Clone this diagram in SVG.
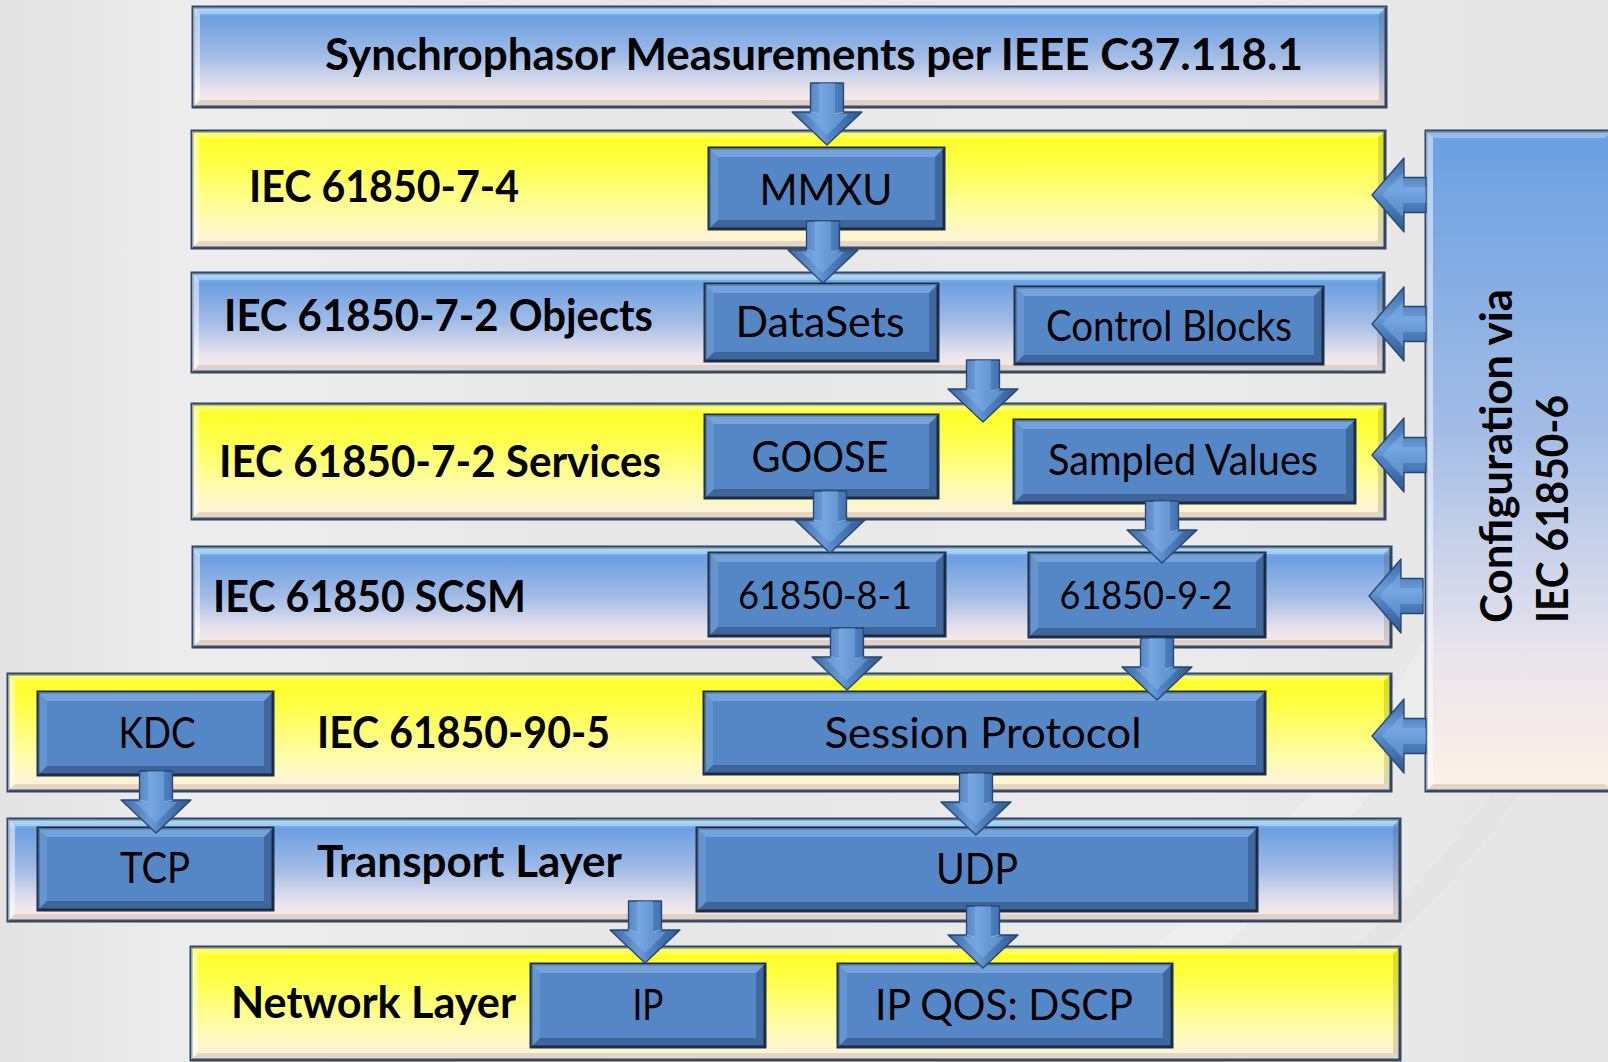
<svg xmlns="http://www.w3.org/2000/svg" width="1608" height="1062" viewBox="0 0 1608 1062">
  <defs>
    <linearGradient id="bg" x1="0" y1="0" x2="1" y2="0">
      <stop offset="0" stop-color="#e3e3e3"/>
      <stop offset="0.12" stop-color="#ededed"/>
      <stop offset="0.4" stop-color="#e7e7e7"/>
      <stop offset="0.7" stop-color="#ebebeb"/>
      <stop offset="1" stop-color="#e5e5e5"/>
    </linearGradient>
    <!-- layer bar fills -->
    <linearGradient id="gYellow" x1="0" y1="0" x2="0" y2="1">
      <stop offset="0" stop-color="#ffff1e"/>
      <stop offset="0.3" stop-color="#ffff4a"/>
      <stop offset="0.7" stop-color="#fffca8"/>
      <stop offset="1" stop-color="#fdf1e6"/>
    </linearGradient>
    <linearGradient id="gBlue" x1="0" y1="0" x2="0" y2="1">
      <stop offset="0" stop-color="#8fd6fb"/>
      <stop offset="0.1" stop-color="#6b9fe2"/>
      <stop offset="0.5" stop-color="#a3bce6"/>
      <stop offset="0.82" stop-color="#e8e3ec"/>
      <stop offset="1" stop-color="#fbede4"/>
    </linearGradient>
    <linearGradient id="gConfig" x1="0" y1="0" x2="0" y2="1">
      <stop offset="0" stop-color="#6a9fe2"/>
      <stop offset="0.45" stop-color="#a2bce6"/>
      <stop offset="0.8" stop-color="#eae5ec"/>
      <stop offset="1" stop-color="#fdf1e6"/>
    </linearGradient>
    <!-- 3D block arrow fills -->
    <linearGradient id="gArrowDown" gradientUnits="userSpaceOnUse" x1="-35" y1="0" x2="35" y2="0">
      <stop offset="0" stop-color="#3a69a6"/>
      <stop offset="0.42" stop-color="#6a9bd8"/>
      <stop offset="0.55" stop-color="#5285c6"/>
      <stop offset="1" stop-color="#2f5890"/>
    </linearGradient>
    <linearGradient id="gArrowLeft" gradientUnits="userSpaceOnUse" x1="0" y1="-37" x2="0" y2="37">
      <stop offset="0" stop-color="#3a69a6"/>
      <stop offset="0.42" stop-color="#6a9bd8"/>
      <stop offset="0.55" stop-color="#5285c6"/>
      <stop offset="1" stop-color="#2f5890"/>
    </linearGradient>
    <g id="arrowDown">
      <path d="M-16.5,-62 H16.5 V-33 H35 L0,0 L-35,-33 H-16.5 Z" fill="url(#gArrowDown)" stroke="#27466e" stroke-width="1.3" stroke-linejoin="round"/>
      <path d="M-8,-62 H8 V-31 H21 L0,-10 L-21,-31 H-8 Z" fill="#86b6ec" opacity="0.45"/>
      <path d="M-16.5,-33 L-8,-31 M16.5,-33 L8,-31" stroke="#9cc6f2" stroke-width="1.2" opacity="0.7"/>
    </g>
    <g id="arrowLeft">
      <path d="M0,0 L32,-37 V-17.5 H54 V17.5 H32 V37 Z" fill="url(#gArrowLeft)" stroke="#27466e" stroke-width="1.3" stroke-linejoin="round"/>
      <path d="M10,0 L31,-22 V-8 H54 V8 H31 V22 Z" fill="#86b6ec" opacity="0.45"/>
    </g>
  </defs>

  <style>
    .bar { stroke: #2e4766; stroke-width: 3; }
    .yellow { fill: url(#gYellow); }
    .blue { fill: url(#gBlue); }
    .cfg { fill: url(#gConfig); }
    .ft { fill: #ffffff; opacity: 0.3; }
    .fl { fill: #ffffff; opacity: 0.5; }
    .fr { fill: #3a2a1a; opacity: 0.16; }
    .fb { fill: #8a6a50; opacity: 0.2; }
    .box { fill: #5586c6; stroke: #1c2f48; stroke-width: 3; }
    .it { fill: #9cc8f5; opacity: 0.45; }
    .il { fill: #8ab8ec; opacity: 0.3; }
    .ir { fill: #0e2340; opacity: 0.3; }
    .ib { fill: #0e2340; opacity: 0.32; }
    .lbl { font-family: Lato, "Liberation Sans", Arial, sans-serif; font-weight: 700; font-size: 43px; fill: #000; }
    .txt { font-family: Lato, "Liberation Sans", Arial, sans-serif; font-weight: 400; font-size: 42px; fill: #000; text-anchor: middle; }
    .num { font-size: 38px; }
  </style>

  <!-- backdrop -->
  <rect x="0" y="0" width="1608" height="1062" fill="url(#bg)"/>
  <path d="M1040,1062 Q1480,760 1608,280" fill="none" stroke="#f4f4f4" stroke-width="46" opacity="0.4"/>
  <path d="M1230,1062 Q1560,820 1608,560" fill="none" stroke="#dedede" stroke-width="22" opacity="0.35"/>

  <!-- layer bars -->
  <g id="layer-synchrophasor">
    <rect class="bar blue" x="193" y="7" width="1193" height="100"/>
    <polygon class="ft" points="193,7 1386,7 1379,14 200,14"/>
    <polygon class="fl" points="193,7 200,14 200,100 193,107"/>
    <polygon class="fr" points="1386,7 1386,107 1379,100 1379,14"/>
    <polygon class="fb" points="193,107 200,100 1379,100 1386,107"/>
    <text class="lbl" x="325" y="70" font-size="41" textLength="978" lengthAdjust="spacingAndGlyphs">Synchrophasor Measurements per IEEE C37.118.1</text>
  </g>

  <g id="layer-61850-7-4">
    <rect class="bar yellow" x="192" y="131" width="1193" height="117"/>
    <polygon class="ft" points="192,131 1385,131 1378,138 199,138"/>
    <polygon class="fl" points="192,131 199,138 199,241 192,248"/>
    <polygon class="fr" points="1385,131 1385,248 1378,241 1378,138"/>
    <polygon class="fb" points="192,248 199,241 1378,241 1385,248"/>
    <text class="lbl" x="249" y="202" textLength="270" lengthAdjust="spacingAndGlyphs">IEC 61850-7-4</text>
  </g>

  <g id="layer-61850-7-2-objects">
    <rect class="bar blue" x="192" y="273" width="1192" height="99"/>
    <polygon class="ft" points="192,273 1384,273 1377,280 199,280"/>
    <polygon class="fl" points="192,273 199,280 199,365 192,372"/>
    <polygon class="fr" points="1384,273 1384,372 1377,365 1377,280"/>
    <polygon class="fb" points="192,372 199,365 1377,365 1384,372"/>
    <text class="lbl" x="224" y="331" textLength="429" lengthAdjust="spacingAndGlyphs">IEC 61850-7-2 Objects</text>
  </g>

  <g id="layer-61850-7-2-services">
    <rect class="bar yellow" x="192" y="404" width="1193" height="115"/>
    <polygon class="ft" points="192,404 1385,404 1378,411 199,411"/>
    <polygon class="fl" points="192,404 199,411 199,512 192,519"/>
    <polygon class="fr" points="1385,404 1385,519 1378,512 1378,411"/>
    <polygon class="fb" points="192,519 199,512 1378,512 1385,519"/>
    <text class="lbl" x="219" y="477" textLength="442" lengthAdjust="spacingAndGlyphs">IEC 61850-7-2 Services</text>
  </g>

  <g id="layer-scsm">
    <rect class="bar blue" x="193" y="547" width="1198" height="100"/>
    <polygon class="ft" points="193,547 1391,547 1384,554 200,554"/>
    <polygon class="fl" points="193,547 200,554 200,640 193,647"/>
    <polygon class="fr" points="1391,547 1391,647 1384,640 1384,554"/>
    <polygon class="fb" points="193,647 200,640 1384,640 1391,647"/>
    <text class="lbl" x="213" y="612" textLength="313" lengthAdjust="spacingAndGlyphs">IEC 61850 SCSM</text>
  </g>

  <g id="layer-90-5">
    <rect class="bar yellow" x="8" y="674" width="1383" height="117"/>
    <polygon class="ft" points="8,674 1391,674 1384,681 15,681"/>
    <polygon class="fl" points="8,674 15,681 15,784 8,791"/>
    <polygon class="fr" points="1391,674 1391,791 1384,784 1384,681"/>
    <polygon class="fb" points="8,791 15,784 1384,784 1391,791"/>
    <text class="lbl" x="317" y="748" textLength="293" lengthAdjust="spacingAndGlyphs">IEC 61850-90-5</text>
  </g>

  <g id="layer-transport">
    <rect class="bar blue" x="8" y="819" width="1392" height="102"/>
    <polygon class="ft" points="8,819 1400,819 1393,826 15,826"/>
    <polygon class="fl" points="8,819 15,826 15,914 8,921"/>
    <polygon class="fr" points="1400,819 1400,921 1393,914 1393,826"/>
    <polygon class="fb" points="8,921 15,914 1393,914 1400,921"/>
    <text class="lbl" x="317" y="877" textLength="305" lengthAdjust="spacingAndGlyphs">Transport Layer</text>
  </g>

  <g id="layer-network">
    <rect class="bar yellow" x="191" y="947" width="1209" height="113"/>
    <polygon class="ft" points="191,947 1400,947 1393,954 198,954"/>
    <polygon class="fl" points="191,947 198,954 198,1053 191,1060"/>
    <polygon class="fr" points="1400,947 1400,1060 1393,1053 1393,954"/>
    <polygon class="fb" points="191,1060 198,1053 1393,1053 1400,1060"/>
    <text class="lbl" x="231" y="1018" textLength="285" lengthAdjust="spacingAndGlyphs">Network Layer</text>
  </g>

  <g id="configuration">
    <rect class="bar cfg" x="1426" y="131" width="186" height="660"/>
    <polygon class="ft" points="1426,131 1612,131 1605,138 1433,138"/>
    <polygon class="fl" points="1426,131 1433,138 1433,784 1426,791"/>
    <polygon class="fb" points="1426,791 1433,784 1605,784 1612,791"/>
    <text class="lbl" transform="translate(1512,623) rotate(-90)" textLength="334" lengthAdjust="spacingAndGlyphs">Configuration via</text>
    <text class="lbl" transform="translate(1568,623) rotate(-90)" textLength="228" lengthAdjust="spacingAndGlyphs">IEC 61850-6</text>
  </g>

  <!-- function blocks -->
  <g id="mmxu">
    <rect class="box" x="709" y="148" width="235" height="81"/>
    <polygon class="it" points="709,148 944,148 935,157 718,157"/>
    <polygon class="il" points="709,148 718,157 718,220 709,229"/>
    <polygon class="ir" points="944,148 944,229 935,220 935,157"/>
    <polygon class="ib" points="709,229 718,220 935,220 944,229"/>
    <text class="txt" x="826" y="205" textLength="133" lengthAdjust="spacingAndGlyphs">MMXU</text>
  </g>

  <g id="datasets">
    <rect class="box" x="705" y="284" width="233" height="77"/>
    <polygon class="it" points="705,284 938,284 929,293 714,293"/>
    <polygon class="il" points="705,284 714,293 714,352 705,361"/>
    <polygon class="ir" points="938,284 938,361 929,352 929,293"/>
    <polygon class="ib" points="705,361 714,352 929,352 938,361"/>
    <text class="txt" x="820" y="337" textLength="169" lengthAdjust="spacingAndGlyphs">DataSets</text>
  </g>

  <g id="control-blocks">
    <rect class="box" x="1015" y="287" width="308" height="77"/>
    <polygon class="it" points="1015,287 1323,287 1314,296 1024,296"/>
    <polygon class="il" points="1015,287 1024,296 1024,355 1015,364"/>
    <polygon class="ir" points="1323,287 1323,364 1314,355 1314,296"/>
    <polygon class="ib" points="1015,364 1024,355 1314,355 1323,364"/>
    <text class="txt" x="1169" y="341" font-size="40" textLength="246" lengthAdjust="spacingAndGlyphs">Control Blocks</text>
  </g>

  <g id="goose">
    <rect class="box" x="705" y="415" width="233" height="83"/>
    <polygon class="it" points="705,415 938,415 929,424 714,424"/>
    <polygon class="il" points="705,415 714,424 714,489 705,498"/>
    <polygon class="ir" points="938,415 938,498 929,489 929,424"/>
    <polygon class="ib" points="705,498 714,489 929,489 938,498"/>
    <text class="txt" x="820" y="472" textLength="137" lengthAdjust="spacingAndGlyphs">GOOSE</text>
  </g>

  <g id="sampled-values">
    <rect class="box" x="1014" y="420" width="341" height="83"/>
    <polygon class="it" points="1014,420 1355,420 1346,429 1023,429"/>
    <polygon class="il" points="1014,420 1023,429 1023,494 1014,503"/>
    <polygon class="ir" points="1355,420 1355,503 1346,494 1346,429"/>
    <polygon class="ib" points="1014,503 1023,494 1346,494 1355,503"/>
    <text class="txt" x="1183" y="475" font-size="40" textLength="270" lengthAdjust="spacingAndGlyphs">Sampled Values</text>
  </g>

  <g id="scsm-8-1">
    <rect class="box" x="709" y="553" width="236" height="83"/>
    <polygon class="it" points="709,553 945,553 936,562 718,562"/>
    <polygon class="il" points="709,553 718,562 718,627 709,636"/>
    <polygon class="ir" points="945,553 945,636 936,627 936,562"/>
    <polygon class="ib" points="709,636 718,627 936,627 945,636"/>
    <text class="txt num" x="825" y="609" textLength="174" lengthAdjust="spacingAndGlyphs">61850-8-1</text>
  </g>

  <g id="scsm-9-2">
    <rect class="box" x="1029" y="553" width="236" height="84"/>
    <polygon class="it" points="1029,553 1265,553 1256,562 1038,562"/>
    <polygon class="il" points="1029,553 1038,562 1038,628 1029,637"/>
    <polygon class="ir" points="1265,553 1265,637 1256,628 1256,562"/>
    <polygon class="ib" points="1029,637 1038,628 1256,628 1265,637"/>
    <text class="txt num" x="1146" y="609" textLength="173" lengthAdjust="spacingAndGlyphs">61850-9-2</text>
  </g>

  <g id="session-protocol">
    <rect class="box" x="704" y="692" width="561" height="82"/>
    <polygon class="it" points="704,692 1265,692 1256,701 713,701"/>
    <polygon class="il" points="704,692 713,701 713,765 704,774"/>
    <polygon class="ir" points="1265,692 1265,774 1256,765 1256,701"/>
    <polygon class="ib" points="704,774 713,765 1256,765 1265,774"/>
    <text class="txt" x="983" y="748" textLength="317" lengthAdjust="spacingAndGlyphs">Session Protocol</text>
  </g>

  <g id="kdc">
    <rect class="box" x="38" y="692" width="235" height="83"/>
    <polygon class="it" points="38,692 273,692 264,701 47,701"/>
    <polygon class="il" points="38,692 47,701 47,766 38,775"/>
    <polygon class="ir" points="273,692 273,775 264,766 264,701"/>
    <polygon class="ib" points="38,775 47,766 264,766 273,775"/>
    <text class="txt" x="157" y="748" textLength="77" lengthAdjust="spacingAndGlyphs">KDC</text>
  </g>

  <g id="tcp">
    <rect class="box" x="38" y="828" width="235" height="82"/>
    <polygon class="it" points="38,828 273,828 264,837 47,837"/>
    <polygon class="il" points="38,828 47,837 47,901 38,910"/>
    <polygon class="ir" points="273,828 273,910 264,901 264,837"/>
    <polygon class="ib" points="38,910 47,901 264,901 273,910"/>
    <text class="txt" x="155" y="883" textLength="70" lengthAdjust="spacingAndGlyphs">TCP</text>
  </g>

  <g id="udp">
    <rect class="box" x="697" y="828" width="560" height="83"/>
    <polygon class="it" points="697,828 1257,828 1248,837 706,837"/>
    <polygon class="il" points="697,828 706,837 706,902 697,911"/>
    <polygon class="ir" points="1257,828 1257,911 1248,902 1248,837"/>
    <polygon class="ib" points="697,911 706,902 1248,902 1257,911"/>
    <text class="txt" x="977" y="884" textLength="82" lengthAdjust="spacingAndGlyphs">UDP</text>
  </g>

  <g id="ip">
    <rect class="box" x="531" y="964" width="234" height="83"/>
    <polygon class="it" points="531,964 765,964 756,973 540,973"/>
    <polygon class="il" points="531,964 540,973 540,1038 531,1047"/>
    <polygon class="ir" points="765,964 765,1047 756,1038 756,973"/>
    <polygon class="ib" points="531,1047 540,1038 756,1038 765,1047"/>
    <text class="txt" x="648" y="1020" textLength="31" lengthAdjust="spacingAndGlyphs">IP</text>
  </g>

  <g id="ip-qos-dscp">
    <rect class="box" x="838" y="964" width="334" height="83"/>
    <polygon class="it" points="838,964 1172,964 1163,973 847,973"/>
    <polygon class="il" points="838,964 847,973 847,1038 838,1047"/>
    <polygon class="ir" points="1172,964 1172,1047 1163,1038 1163,973"/>
    <polygon class="ib" points="838,1047 847,1038 1163,1038 1172,1047"/>
    <text class="txt" x="1004" y="1020" textLength="258" lengthAdjust="spacingAndGlyphs">IP QOS: DSCP</text>
  </g>

  <!-- block arrows -->
  <g id="connectors">
    <use href="#arrowDown" transform="translate(827,145)"/>
    <use href="#arrowDown" transform="translate(823,283)"/>
    <use href="#arrowDown" transform="translate(983,422)"/>
    <use href="#arrowDown" transform="translate(830,553)"/>
    <use href="#arrowDown" transform="translate(1162,563)"/>
    <use href="#arrowDown" transform="translate(847,690)"/>
    <use href="#arrowDown" transform="translate(1157,700)"/>
    <use href="#arrowDown" transform="translate(976,835)"/>
    <use href="#arrowDown" transform="translate(156,833)"/>
    <use href="#arrowDown" transform="translate(645,963)"/>
    <use href="#arrowDown" transform="translate(983,968)"/>
    <use href="#arrowLeft" transform="translate(1372,195)"/>
    <use href="#arrowLeft" transform="translate(1372,324)"/>
    <use href="#arrowLeft" transform="translate(1372,455)"/>
    <use href="#arrowLeft" transform="translate(1369,596)"/>
    <use href="#arrowLeft" transform="translate(1372,736)"/>
  </g>
</svg>
